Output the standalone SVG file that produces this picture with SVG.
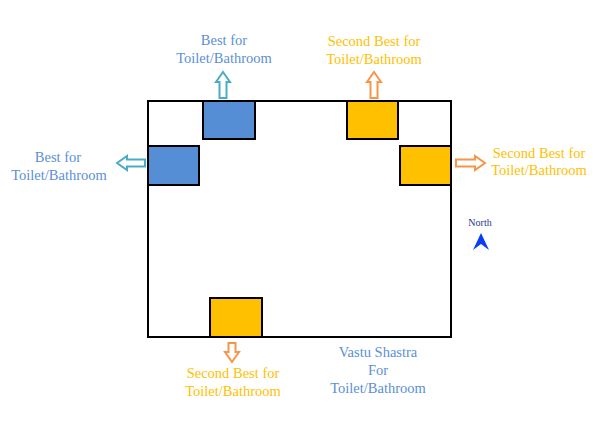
<svg xmlns="http://www.w3.org/2000/svg" width="600" height="425" viewBox="0 0 600 425">
<style>
.room{stroke:#000;stroke-width:2}
.blue{fill:#558ED5}
.yel{fill:#FFC000}
.arT{fill:#fff;stroke:#4BACC6;stroke-width:2;stroke-linejoin:miter}
.arO{fill:#fff;stroke:#F79646;stroke-width:2;stroke-linejoin:miter}
text{font-family:"Liberation Serif",serif;font-size:14.5px;text-anchor:middle}
.tb{fill:#5B8FD8}
.ty{fill:#FFC000}
</style>
<rect width="600" height="425" fill="#fff"/>
<g id="plot"><rect x="148" y="101" width="303" height="236" fill="#fff" class="room"/></g>
<g id="best-top"><rect x="203" y="101" width="52" height="38" class="room blue"/></g>
<g id="best-left"><rect x="148" y="146" width="51" height="39" class="room blue"/></g>
<g id="second-top"><rect x="347" y="101" width="51" height="38" class="room yel"/></g>
<g id="second-right"><rect x="400" y="146" width="51" height="39" class="room yel"/></g>
<g id="second-bottom"><rect x="210" y="298" width="52" height="39" class="room yel"/></g>
<g id="connectors">
<path class="arT" d="M223,72 L230,82 L226.5,82 L226.5,98 L219.5,98 L219.5,82 L216,82 Z"/>
<path class="arO" d="M374,72 L381,82 L377.5,82 L377.5,98 L370.5,98 L370.5,82 L367,82 Z"/>
<path class="arT" d="M117,163 L127,156 L127,159.5 L145,159.5 L145,166.5 L127,166.5 L127,170 Z"/>
<path class="arO" d="M485,163 L475,156 L475,159.5 L456,159.5 L456,166.5 L475,166.5 L475,170 Z"/>
<path class="arO" d="M232,362 L239,352 L235.5,352 L235.5,343 L228.5,343 L228.5,352 L225,352 Z"/>
</g>
<g id="labels">
<text class="tb" x="224" y="45">Best for</text>
<text class="tb" x="224" y="63">Toilet/Bathroom</text>
<text class="ty" x="374" y="46">Second Best for</text>
<text class="ty" x="374" y="64">Toilet/Bathroom</text>
<text class="tb" x="58" y="162">Best for</text>
<text class="tb" x="59" y="180">Toilet/Bathroom</text>
<text class="ty" x="539" y="158">Second Best for</text>
<text class="ty" x="539" y="175">Toilet/Bathroom</text>
<text class="ty" x="233" y="378">Second Best for</text>
<text class="ty" x="233" y="396">Toilet/Bathroom</text>
<text class="tb" x="378" y="357">Vastu Shastra</text>
<text class="tb" x="378" y="375">For</text>
<text class="tb" x="378" y="393">Toilet/Bathroom</text>
</g>
<g id="north">
<text x="480" y="226" style="font-size:10px;fill:#2E3192">North</text>
<path d="M481,233 L489,250 L481,244 L473,250 Z" fill="#0A3CF5"/>
</g>
</svg>
